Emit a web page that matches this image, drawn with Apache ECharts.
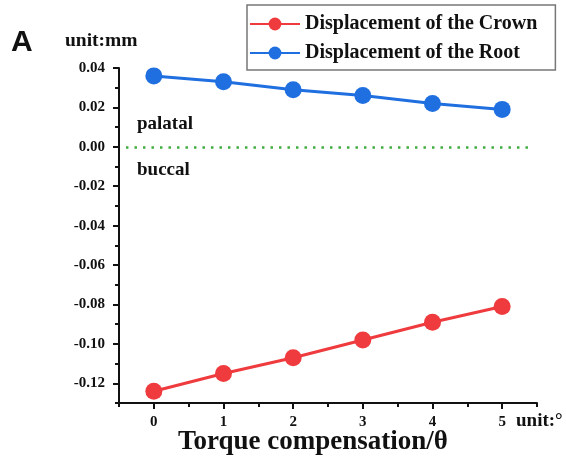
<!DOCTYPE html>
<html>
<head>
<meta charset="utf-8">
<script src="https://cdn.jsdelivr.net/npm/echarts@6/dist/echarts.min.js"></script>
<style>
  html, body { margin: 0; padding: 0; background: #fff; }
  #chart { width: 566px; height: 459px; }
</style>
</head>
<body>
<div id="chart"></div>
<script>
  // torque compensation angle (degrees)
  var angles = [0, 1, 2, 3, 4, 5];
  var crown = [-0.124, -0.115, -0.107, -0.098, -0.089, -0.081];
  var root = [0.036, 0.033, 0.029, 0.026, 0.022, 0.019];

  var yMajor = [-0.12, -0.10, -0.08, -0.06, -0.04, -0.02, 0.00, 0.02, 0.04];
  var yMinor = [-0.13, -0.11, -0.09, -0.07, -0.05, -0.03, -0.01, 0.01, 0.03];
  var xMajor = [0, 1, 2, 3, 4, 5];
  var xMinor = [-0.5, 0.5, 1.5, 2.5, 3.5, 4.5, 5.5];

  var serif = "'Liberation Serif', 'Times New Roman', serif";
  var black = '#111';

  function pairs(ys) {
    return angles.map(function (x, i) { return [x, ys[i]]; });
  }

  var chart = echarts.init(document.getElementById('chart'));

  var xBase = {
    type: 'value', min: -0.5, max: 5.5, position: 'bottom',
    splitLine: { show: false }
  };
  var yBase = {
    type: 'value', min: -0.13, max: 0.04, position: 'left',
    splitLine: { show: false }
  };

  var option = {
    animation: false,
    backgroundColor: '#fff',
    grid: { left: 119, right: 29, top: 68, bottom: 56, containLabel: false },
    legend: {
      orient: 'vertical',
      left: 247, top: 5,
      padding: [9, 18, 7, 2],
      itemWidth: 50, itemHeight: 16, itemGap: 9,
      borderColor: '#777', borderWidth: 1.5,
      textStyle: { fontFamily: serif, fontWeight: 'bold', fontSize: 20, color: black },
      data: ['Displacement of the Crown', 'Displacement of the Root']
    },
    xAxis: [
      Object.assign({}, xBase, {
        axisLine: { onZero: false, lineStyle: { color: black, width: 2 } },
        axisTick: { customValues: xMajor, length: 6, lineStyle: { width: 2, color: black } },
        axisLabel: {
          customValues: xMajor, margin: 12, color: black,
          fontFamily: serif, fontWeight: 'bold', fontSize: 15
        }
      }),
      Object.assign({}, xBase, {
        axisLine: { show: false, onZero: false },
        axisTick: { customValues: xMinor, length: 4, lineStyle: { width: 2, color: black } },
        axisLabel: { show: false }
      })
    ],
    yAxis: [
      Object.assign({}, yBase, {
        axisLine: { show: true, onZero: false, lineStyle: { color: black, width: 2 } },
        axisTick: { show: true, customValues: yMajor, length: 6, lineStyle: { width: 2, color: black } },
        axisLabel: {
          customValues: yMajor, margin: 14, color: black,
          fontFamily: serif, fontWeight: 'bold', fontSize: 15,
          formatter: function (v) { return v.toFixed(2); }
        }
      }),
      Object.assign({}, yBase, {
        axisLine: { show: false, onZero: false },
        axisTick: { show: true, customValues: yMinor, length: 4, lineStyle: { width: 2, color: black } },
        axisLabel: { show: false }
      })
    ],
    series: [
      {
        name: 'Displacement of the Crown',
        type: 'line',
        data: pairs(crown),
        symbol: 'circle', symbolSize: 17,
        itemStyle: { color: '#ef3b3e' },
        lineStyle: { color: '#ef3b3e', width: 3 },
        markLine: {
          silent: true,
          symbol: 'none',
          label: { show: false },
          lineStyle: { color: '#3fae3f', type: [2.5, 6], width: 2.5 },
          data: [[{ coord: [-0.4, 0] }, { coord: [5.45, 0] }]]
        }
      },
      {
        name: 'Displacement of the Root',
        type: 'line',
        data: pairs(root),
        symbol: 'circle', symbolSize: 17,
        itemStyle: { color: '#1f6fe0' },
        lineStyle: { color: '#1f6fe0', width: 3 }
      }
    ],
    graphic: [
      { type: 'text', left: 11, top: 28,
        style: { text: 'A', font: "bold 30px 'Liberation Sans', Arial, sans-serif", fill: black } },
      { type: 'text', left: 65, top: 31,
        style: { text: 'unit:mm', font: 'bold 19.5px ' + serif, fill: black } },
      { type: 'text', left: 137, top: 115,
        style: { text: 'palatal', font: 'bold 19px ' + serif, fill: black } },
      { type: 'text', left: 137, top: 161,
        style: { text: 'buccal', font: 'bold 19px ' + serif, fill: black } },
      { type: 'text', left: 516, top: 412,
        style: { text: 'unit:°', font: 'bold 19px ' + serif, fill: black } },
      { type: 'text', left: 178, top: 429,
        style: { text: 'Torque compensation/θ', font: 'bold 27px ' + serif, fill: black } }
    ]
  };

  chart.setOption(option);
</script>
</body>
</html>
